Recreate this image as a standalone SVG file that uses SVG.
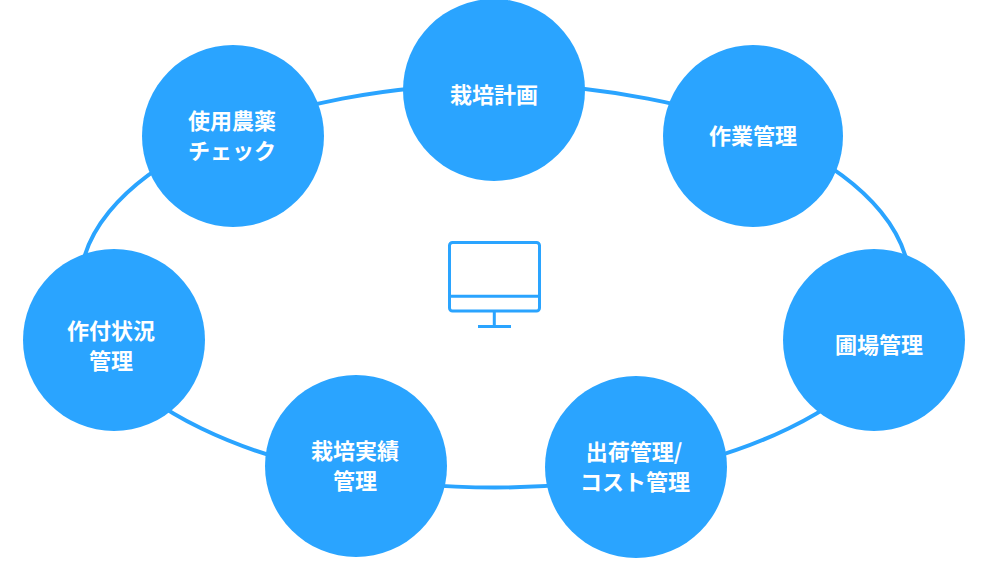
<svg xmlns="http://www.w3.org/2000/svg" width="989" height="567" viewBox="0 0 989 567">
<style>
.n{fill:#2aa4ff}
.t{fill:#fff;font:700 22px "Noto Sans CJK JP","Noto Sans",sans-serif;text-anchor:middle}
.l{fill:none;stroke:#2aa4ff;stroke-width:4}
.m{fill:none;stroke:#2aa4ff;stroke-width:3}
</style>
<rect width="989" height="567" fill="#fff"/>
<g id="connectors"><ellipse class="l" cx="495" cy="286" rx="415" ry="201.500"/></g>
<g id="monitor" class="m"><rect x="449.500" y="242.500" width="90" height="68.500" rx="3"/><path d="M449.500 296.300H539.500M494.300 312V326M478 326.500H511"/></g>
<g id="n1"><circle class="n" cx="494" cy="90" r="91"/><text class="t" x="494" y="103">栽培計画</text></g>
<g id="n2"><ellipse class="n" cx="753" cy="136" rx="90" ry="91"/><text class="t" x="753" y="144">作業管理</text></g>
<g id="n3"><circle class="n" cx="874" cy="340" r="91"/><text class="t" x="879" y="353">圃場管理</text></g>
<g id="n4"><circle class="n" cx="636" cy="467" r="91"/><text class="t" x="634" y="460">出荷管理/</text><text class="t" x="635" y="490">コスト管理</text></g>
<g id="n5"><circle class="n" cx="356" cy="466" r="91"/><text class="t" x="355" y="459">栽培実績</text><text class="t" x="355" y="489">管理</text></g>
<g id="n6"><circle class="n" cx="114" cy="340" r="91"/><text class="t" x="111" y="339">作付状況</text><text class="t" x="111" y="369">管理</text></g>
<g id="n7"><circle class="n" cx="233" cy="136" r="91"/><text class="t" x="232" y="129">使用農薬</text><text class="t" x="232" y="159">チェック</text></g>
</svg>
